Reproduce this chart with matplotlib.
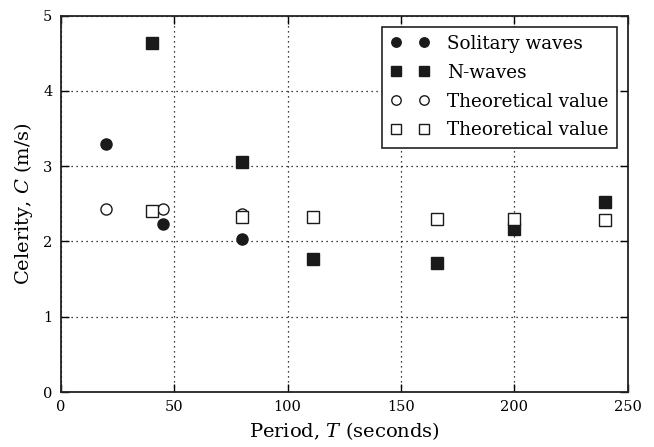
import matplotlib
matplotlib.use("Agg")
import matplotlib.pyplot as plt

plt.rcParams['font.family'] = ['DejaVu Serif']
plt.rcParams['mathtext.fontset'] = 'dejavuserif'

sol_T = [20, 45, 80]
sol_C = [3.30, 2.23, 2.03]
nw_T = [40, 80, 111, 166, 200, 240]
nw_C = [4.63, 3.05, 1.77, 1.71, 2.17, 2.53]
th_sol_T = [20, 45, 80]
th_sol_C = [2.43, 2.43, 2.36]
th_nw_T = [40, 80, 111, 166, 200, 240]
th_nw_C = [2.40, 2.32, 2.33, 2.30, 2.30, 2.29]

fig = plt.figure(figsize=(6.54, 4.47), dpi=100)
ax = fig.add_axes([0.093, 0.123, 0.867, 0.842])

ax.plot(sol_T, sol_C, 'o', color='#1a1a1a', ms=8, ls='none', label='Solitary waves')
ax.plot(nw_T, nw_C, 's', color='#1a1a1a', ms=8, ls='none', label='N-waves')
ax.plot(th_sol_T, th_sol_C, 'o', mfc='white', mec='#1a1a1a', mew=1.0, ms=8, ls='none', label='Theoretical value')
ax.plot(th_nw_T, th_nw_C, 's', mfc='white', mec='#1a1a1a', mew=1.0, ms=8, ls='none', label='Theoretical value')

ax.set_xlim(0, 250)
ax.set_ylim(0, 5)
ax.set_xticks([0, 50, 100, 150, 200, 250])
ax.set_yticks([0, 1, 2, 3, 4, 5])
ax.grid(True, ls=(0, (1, 3)), color='black', lw=0.9)
ax.tick_params(direction='in', top=True, right=True, labelsize=10.5, length=6, width=1, pad=6)
for s in ax.spines.values():
    s.set_linewidth(1.3)
    s.set_color('#222222')

ax.set_xlabel(r'Period, $T$ (seconds)', fontsize=14, labelpad=4)
ax.set_ylabel(r'Celerity, $C$ (m/s)', fontsize=14, labelpad=6)

leg = ax.legend(loc='upper right', numpoints=2, fontsize=13.2, fancybox=False,
                framealpha=1, edgecolor='#222222', borderpad=0.45, labelspacing=0.59,
                handlelength=2.15, handletextpad=0.95, borderaxespad=0.6,
                markerscale=0.85)
leg.get_frame().set_linewidth(1.2)

fig.savefig('out.png', dpi=100)
